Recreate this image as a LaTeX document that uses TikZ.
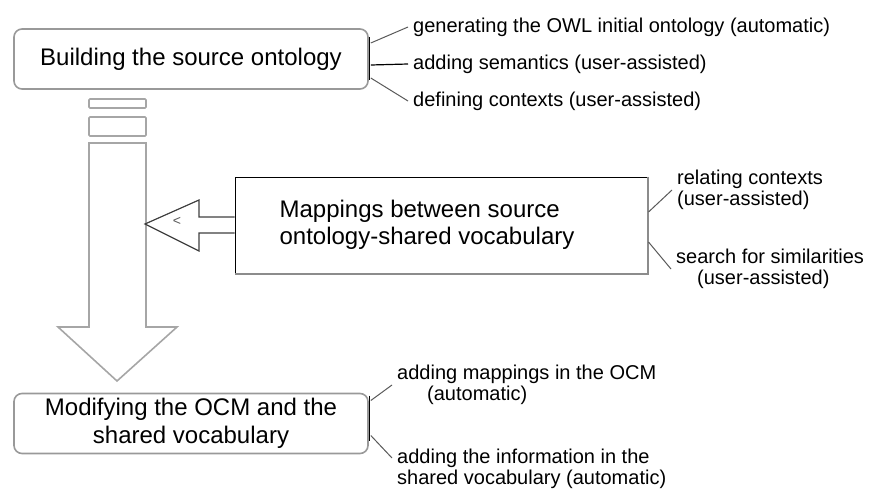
\documentclass[tikz,border=0pt]{standalone}
\usepackage{fontspec}
\setmainfont{Liberation Sans}
\usepackage{tikz}
\usetikzlibrary{positioning, calc}

\tikzset{
    stagebox/.style={rectangle, draw=black!40, line width=1.6pt, rounded corners=8pt, minimum width=354pt, minimum height=60pt, inner sep=2pt, align=center, font=\fontsize{24}{28}\selectfont},
    notetext/.style={anchor=west, inner sep=5pt, align=left, font=\fontsize{20}{21}\selectfont},
    tickline/.style={draw=black!65, line width=1pt},
    hollowarrow/.style={draw=black!35, line width=1.6pt}
}

\begin{document}
\begin{tikzpicture}[x=1pt, y=-1pt]
    \useasboundingbox (0,0) rectangle (877,495);

    % the two stages
    \node [stagebox] (build) at (191,59) {Building the source ontology};
    \node [stagebox] (modify) at (191,423.5) {Modifying the OCM and the\\shared vocabulary};

    % mapping step
    \node [rectangle, draw=black, line width=1pt, minimum width=412pt, minimum height=96pt, inner sep=0pt] (mapbox) at (441,225) {};
    \draw [black!45, line width=2pt] (mapbox.north east) -- (mapbox.south east) -- (mapbox.south west);
    \node [align=left, font=\fontsize{24}{27}\selectfont, xshift=-14pt] (maptext) at (mapbox.center) {Mappings between source\\ontology-shared vocabulary};

    % big downward arrow
    \draw [hollowarrow, rounded corners=1pt] (89,99) rectangle (146,108);
    \draw [hollowarrow, rounded corners=1pt] (89,117) rectangle (146,136);
    \draw [hollowarrow] (89,143) -- (89,327) -- (58,327) -- (117,381) -- (177,327) -- (146,327) -- (146,143) -- cycle;

    % arrow from the mapping box
    \draw [black!75, line width=1.2pt, fill=white] ($(mapbox.west)+(0,-8)$) -- (199,217) -- (199,200) -- (145,224) -- (199,251) -- (199,233) -- ($(mapbox.west)+(0,8)$);
    \node [font=\fontsize{14}{14}\selectfont, text=black!65, inner sep=0pt] (tipmark) at (177,221) {<};

    % notes on the first stage
    \node [notetext] (gen) at (408,27) {generating the OWL initial ontology (automatic)};
    \node [notetext] (sem) at (408,64) {adding semantics (user-assisted)};
    \node [notetext] (def) at (408,101) {defining contexts (user-assisted)};
    \draw [black, line width=1.2pt] ($(build.east)+(1,-22)$) -- ($(build.east)+(1,21)$);
    \draw [tickline] ($(build.east)+(2,-16)$) -- (gen.west);
    \draw [black, line width=1.2pt] ($(build.east)+(2,6)$) -- (sem.west);
    \draw [tickline] ($(build.east)+(2,19)$) -- (def.west);

    % notes on the mapping step
    \node [notetext] (rel) at (672,190) {relating contexts\\(user-assisted)};
    \node [notetext] (sim) at (671,269) {search for similarities\\\hspace*{21pt}(user-assisted)};
    \draw [tickline] ($(mapbox.east)+(1,-13)$) -- (rel.west);
    \draw [tickline] ($(mapbox.east)+(1,17)$) -- (sim.west);

    % notes on the last stage
    \node [notetext] (ocm) at (392,385) {adding mappings in the OCM\\\hspace*{30pt}(automatic)};
    \node [notetext] (info) at (392,469) {adding the information in the\\shared vocabulary (automatic)};
    \draw [black, line width=1.2pt] ($(modify.east)+(1,-28)$) -- ($(modify.east)+(1,17)$);
    \draw [tickline] ($(modify.east)+(2,-23)$) -- (ocm.west);
    \draw [tickline] ($(modify.east)+(2,12)$) -- ($(info.west)+(0,-11)$);
\end{tikzpicture}
\end{document}
